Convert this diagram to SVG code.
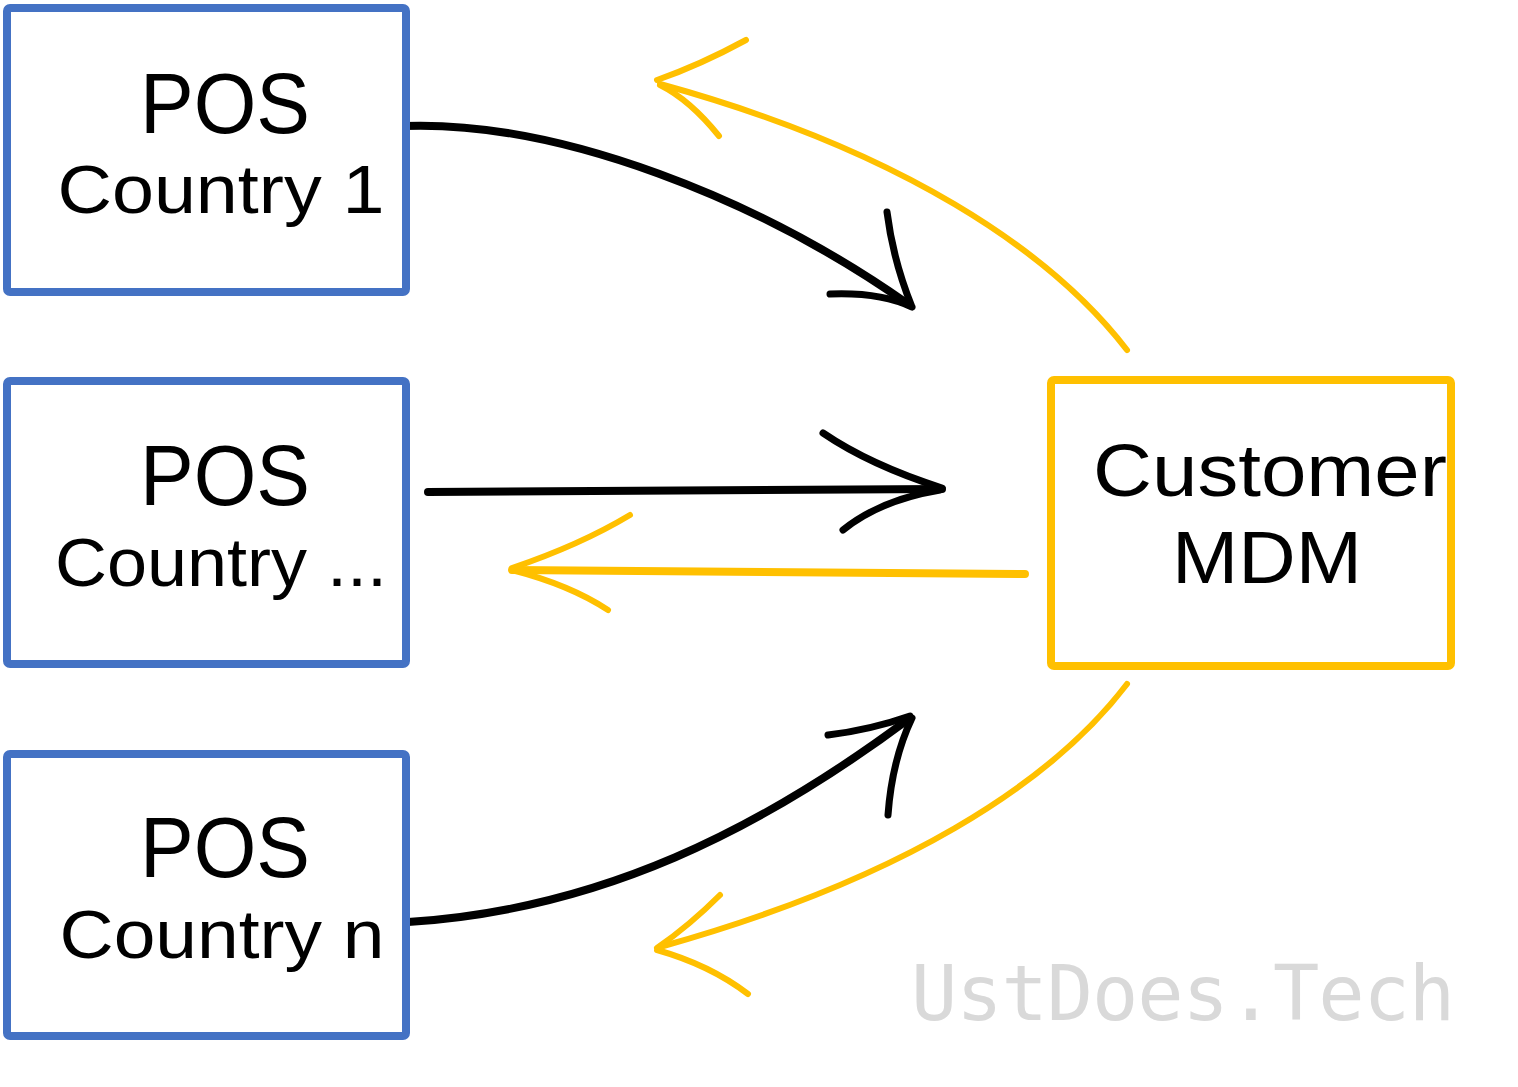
<svg xmlns="http://www.w3.org/2000/svg" width="1518" height="1087" viewBox="0 0 1518 1087">
<style>
.box{fill:#fff;stroke-width:8;stroke-linejoin:round}
.blue{stroke:#4472C4}
.yel{stroke:#FFC000}
.lbl{font-family:"Liberation Sans","Noto Sans",sans-serif;fill:#000;text-anchor:middle}
.blk{fill:none;stroke:#000;stroke-width:7;stroke-linecap:round}
.ylw{fill:none;stroke:#FFC000;stroke-width:6;stroke-linecap:round}
.wm{font-family:"DejaVu Sans Mono","Liberation Mono",monospace;fill:#d9d9d9}
</style>
<rect width="1518" height="1087" fill="#fff"/>
<g id="connectors">
<path class="blk" d="M403 126 C560 120 760 200 908 304" style="stroke-width:8"/>
<path class="blk" d="M887 212 Q893 260 912 307 M830 294 Q880 292 912 307"/>
<path class="ylw" d="M1127 350 C1050 250 900 150 660 84"/>
<path class="ylw" d="M657 80 Q700 65 746 40 M660 85 Q690 100 719 136"/>
<path class="blk" d="M428 492 L942 489" style="stroke-width:8"/>
<path class="blk" d="M823 433 Q870 465 942 488 M843 530 Q880 500 940 490"/>
<path class="ylw" d="M1025 574 L512 570" style="stroke-width:8"/>
<path class="ylw" d="M630 515 Q580 545 512 568 M512 570 Q570 585 608 610"/>
<path class="blk" d="M408 922 C600 910 760 830 910 718" style="stroke-width:8"/>
<path class="blk" d="M828 735 Q870 730 910 716 M888 815 Q892 760 912 718"/>
<path class="ylw" d="M1127 684 C1050 785 900 880 660 947"/>
<path class="ylw" d="M720 895 Q690 925 657 948 M657 950 Q710 965 748 994"/>
</g>
<g id="pos1">
<rect class="box blue" x="7" y="8" width="399" height="284" rx="3"/>
<text class="lbl" x="225" y="133" font-size="85" textLength="170" lengthAdjust="spacingAndGlyphs">POS</text>
<text class="lbl" x="221" y="213" font-size="68" textLength="327" lengthAdjust="spacingAndGlyphs">Country 1</text>
</g>
<g id="pos2">
<rect class="box blue" x="7" y="381" width="399" height="283" rx="3"/>
<text class="lbl" x="225" y="505" font-size="85" textLength="170" lengthAdjust="spacingAndGlyphs">POS</text>
<text class="lbl" x="221" y="586" font-size="68" textLength="332" lengthAdjust="spacingAndGlyphs">Country ...</text>
</g>
<g id="pos3">
<rect class="box blue" x="7" y="754" width="399" height="282" rx="3"/>
<text class="lbl" x="225" y="877" font-size="85" textLength="170" lengthAdjust="spacingAndGlyphs">POS</text>
<text class="lbl" x="222" y="958" font-size="68" textLength="325" lengthAdjust="spacingAndGlyphs">Country n</text>
</g>
<g id="mdm">
<rect class="box yel" x="1051" y="380" width="400" height="286" rx="3"/>
<text class="lbl" x="1270" y="496" font-size="75" textLength="354" lengthAdjust="spacingAndGlyphs">Customer</text>
<text class="lbl" x="1267" y="583" font-size="75" textLength="190" lengthAdjust="spacingAndGlyphs">MDM</text>
</g>
<g id="watermark">
<text class="wm" x="911" y="1020" font-size="77" textLength="544" lengthAdjust="spacing">UstDoes.Tech</text>
</g>
</svg>
